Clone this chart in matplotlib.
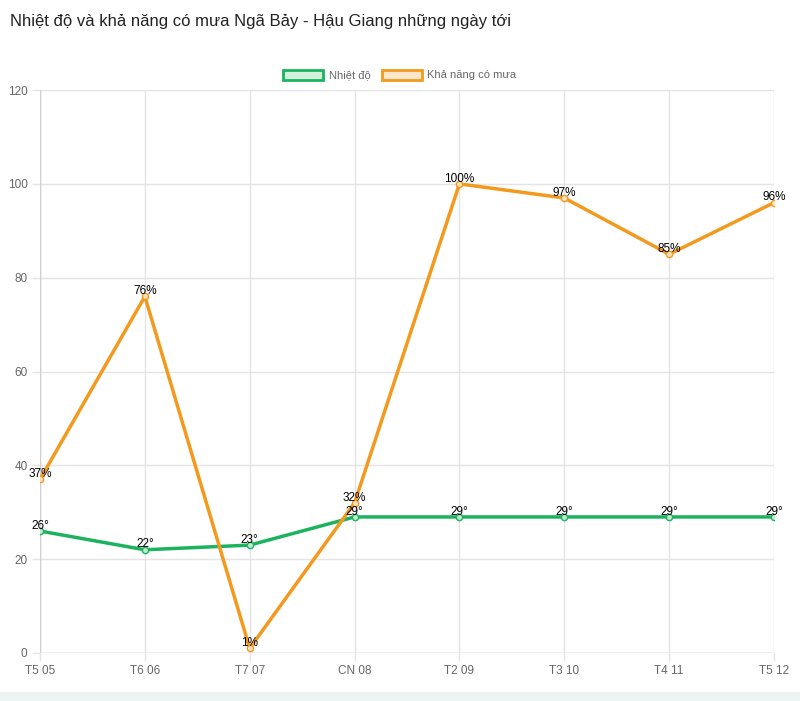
from matplotlib import pyplot as plt
from matplotlib.patches import Patch, Rectangle

# Data
days = ["T5 05", "T6 06", "T7 07", "CN 08", "T2 09", "T3 10", "T4 11", "T5 12"]
temperature = [26, 22, 23, 29, 29, 29, 29, 29]
rain_chance = [37, 76, 1, 32, 100, 97, 85, 96]

green = "#1cb35e"
orange = "#f39a1e"
grid_col = "#e4e4e4"

plt.rcParams['font.family'] = ['Liberation Sans', 'DejaVu Sans']

fig = plt.figure(figsize=(8, 7.01), dpi=100)
ax = fig.add_axes([0.05, 0.0685, 0.9175, 0.803])

x = list(range(len(days)))

# Lines
ax.plot(x, temperature, color=green, lw=2.5, marker='o', ms=4.5,
        mfc="#bfeccf", mec=green, mew=1.0, zorder=3)
ax.plot(x, rain_chance, color=orange, lw=2.5, marker='o', ms=4.5,
        mfc="#fde3c2", mec=orange, mew=1.0, zorder=3)

# Value labels
for i, v in enumerate(temperature):
    ax.annotate(f"{v}°", (i, v), xytext=(0, -0.5), textcoords='offset points',
                ha='center', va='bottom', fontsize=8.5, color='black', zorder=4)
for i, v in enumerate(rain_chance):
    ax.annotate(f"{v}%", (i, v), xytext=(0, -0.5), textcoords='offset points',
                ha='center', va='bottom', fontsize=8.5, color='black', zorder=4)

# Axes styling
ax.set_xlim(0, len(days) - 1)
ax.set_ylim(0, 120)
ax.set_yticks(range(0, 121, 20))
ax.set_xticks(x)
ax.set_xticklabels(days)
ax.grid(True, color=grid_col, lw=1)
ax.set_axisbelow(True)
for s in ax.spines.values():
    s.set_visible(False)
ax.axhline(0, color="#d0d0d0", lw=1, zorder=1)
ax.axvline(0, color="#d0d0d0", lw=1, zorder=1)
ax.tick_params(axis='both', colors=grid_col, labelcolor='#666666',
               labelsize=8.5, length=6, width=1)
ax.tick_params(axis='y', pad=3)
ax.tick_params(axis='x', pad=3)

# Legend
handles = [Patch(facecolor="#d2f2de", edgecolor=green, lw=2, label="Nhiệt độ"),
           Patch(facecolor="#fde6cc", edgecolor=orange, lw=2, label="Khả năng có mưa")]
fig.legend(handles=handles, loc='center', bbox_to_anchor=(0.5, 0.893), ncol=2,
           frameon=False, fontsize=8, handlelength=3.6, handleheight=1.0,
           columnspacing=1.0, handletextpad=0.5, labelcolor='#666666')

# Title
fig.text(0.0125, 0.97, "Nhiệt độ và khả năng có mưa Ngã Bảy - Hậu Giang những ngày tới",
         fontsize=12, color='#222222', ha='left', va='center')

# Bottom band
fig.add_artist(Rectangle((0, 0), 1, 0.013, transform=fig.transFigure,
                         color="#eef3f4", lw=0))

fig.savefig("out.png", dpi=100)
